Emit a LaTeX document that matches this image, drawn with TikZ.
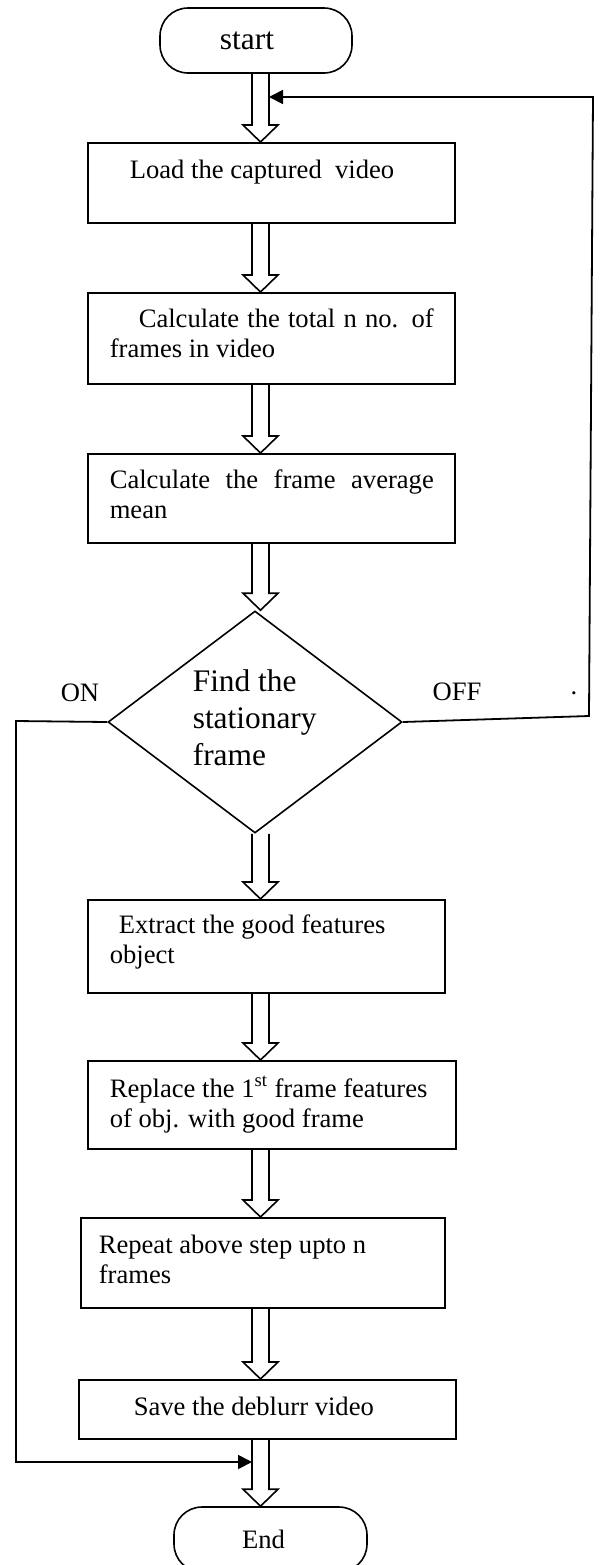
\documentclass[tikz,border=0pt]{standalone}
\usepackage{fontspec}
\setmainfont{Liberation Serif}
\usetikzlibrary{shapes.geometric, arrows.meta, calc}

% hohler Blockpfeil von Knoten #1 nach Knoten #2
\newcommand{\blockpfeil}[2]{%
  \draw[hohl] ($(achse |- #1.south)+(-8.5,0)$) -- ($(achse |- #2.north)+(-8.5,-17)$)
    -- ($(achse |- #2.north)+(-17.5,-17)$) -- (achse |- #2.north)
    -- ($(achse |- #2.north)+(17.5,-17)$) -- ($(achse |- #2.north)+(8.5,-17)$)
    -- ($(achse |- #1.south)+(8.5,0)$);}

\begin{document}
\begin{tikzpicture}[x=0.5pt, y=-0.5pt, line width=0.8pt,
    font=\fontsize{13.3}{15}\selectfont,
    kasten/.style={draw, rectangle, anchor=north west, inner sep=0pt},
    term/.style={draw, rectangle, rounded corners=14pt, inner sep=0pt,
      minimum width=96pt, minimum height=32.5pt},
    raute/.style={draw, diamond, inner sep=0pt, minimum width=147pt, minimum height=111pt},
    txt/.style={anchor=base west, inner sep=0pt, text width=180pt, align=flush left},
    hohl/.style={line width=0.8pt},
    fluss/.style={line width=0.9pt, -{Triangle[length=7pt,width=7pt]}}]
  % Bildbereich
  \useasboundingbox (0,0) rectangle (600,1565);
  \coordinate (achse) at (260.5,0);
  % Start und Ende
  \node[term, font=\fontsize{15.7}{18}\selectfont] (start) at (256,40.5) {start\hspace*{9pt}};
  \node[term, minimum width=96.5pt] (ende) at (270.5,1539.5) {End\hspace*{7pt}};
  % Kaesten zeichnen
  \node[kasten, minimum width=183.5pt, minimum height=40pt] (laden) at (87,142) {};
  \node[kasten, minimum width=183.5pt, minimum height=45.5pt] (anzahl) at (87,292) {};
  \node[kasten, minimum width=183.5pt, minimum height=44.5pt] (mittel) at (87,453) {};
  \node[raute] (suche) at (255,722) {};
  \node[kasten, minimum width=178.5pt, minimum height=46.5pt] (merkmal) at (87,899) {};
  \node[kasten, minimum width=184pt, minimum height=44pt] (ersetzen) at (87,1060) {};
  \node[kasten, minimum width=182pt, minimum height=45pt] (wiederh) at (80,1217) {};
  \node[kasten, minimum width=188.5pt, minimum height=29.5pt] (sichern) at (78,1379) {};
  % Texte
  \node[txt] (laden-t) at (129,178) {Load the captured~ video};
  \node[txt, text width=162pt, align=justify] (anzahl-t) at (109,327)
    {\hspace*{14.5pt}Calculate the total n no. of\linebreak frames in video};
  \node[txt, text width=162pt, align=justify] (mittel-t) at (109,488)
    {Calculate the frame average\linebreak mean};
  \node[txt, text width=100pt, font=\fontsize{15.7}{18.5}\selectfont] (suche-t) at (192,691)
    {Find the\\stationary\\frame};
  \node[txt] (merkmal-t) at (109,933) {\hspace*{4.5pt}Extract the good features\\object};
  \node[txt] (ersetzen-t) at (109,1097)
    {Replace the 1\textsuperscript{st} frame features\\of obj. with good frame};
  \node[txt] (wiederh-t) at (98,1253) {Repeat above step upto n\\frames};
  \node[txt] (sichern-t) at (133,1415) {Save the deblurr video};
  % Beschriftung
  \node (on) at (80,693) {ON};
  \node (off) at (457,692) {OFF};
  \node[anchor=base, inner sep=0pt] (punkt) at (574,694) {.};
  % Blockpfeile
  \blockpfeil{start}{laden}
  \blockpfeil{laden}{anzahl}
  \blockpfeil{anzahl}{mittel}
  \blockpfeil{mittel}{suche}
  \blockpfeil{suche}{merkmal}
  \blockpfeil{merkmal}{ersetzen}
  \blockpfeil{ersetzen}{wiederh}
  \blockpfeil{wiederh}{sichern}
  \blockpfeil{sichern}{ende}
  % Rueckfuehrung OFF
  \coordinate (offknick) at (589,716);
  \coordinate (offoben) at (593,97);
  \coordinate (offziel) at (269,97);
  \draw[fluss] (suche.east) -- (offknick) -- (offoben) -- (offziel);
  % Sprung ON
  \coordinate (onknick) at (16,721);
  \coordinate (onunten) at (16,1462);
  \coordinate (onziel) at (252,1462);
  \draw[fluss] (suche.west) -- (onknick) -- (onunten) -- (onziel);
\end{tikzpicture}
\end{document}
